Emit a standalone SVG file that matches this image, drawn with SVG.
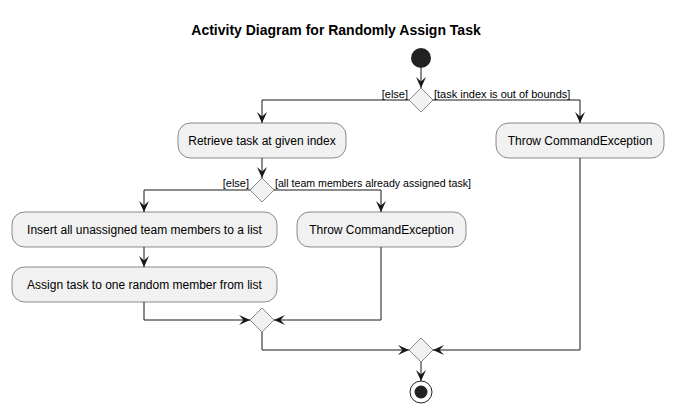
<svg xmlns="http://www.w3.org/2000/svg" width="675" height="413" viewBox="0 0 675 413">
<defs>
<style>
.box{fill:#F1F1F1;stroke:#181818;stroke-width:0.5}
.dia{fill:#F1F1F1;stroke:#181818;stroke-width:0.5}
.t{font-family:"Liberation Sans",Arial,sans-serif;font-size:12px;fill:#000;text-anchor:middle}
.lbl{font-family:"Liberation Sans",Arial,sans-serif;font-size:11px;fill:#000}
.ln{fill:none;stroke:#181818;stroke-width:1}
.title{font-family:"Liberation Sans",Arial,sans-serif;font-size:14px;font-weight:bold;fill:#000;text-anchor:middle}
</style>
<marker id="ah" viewBox="0 0 11 10" refX="11" refY="5" markerWidth="11" markerHeight="10" markerUnits="userSpaceOnUse" orient="auto">
<polygon points="0,0 11,5 0,10 4.5,5" fill="#181818"/>
</marker>
</defs>
<rect width="675" height="413" fill="#FFFFFF"/>
<text class="title" x="336" y="35">Activity Diagram for Randomly Assign Task</text>

<g id="start"><circle cx="421" cy="58" r="10" fill="#222222"/></g>
<g id="d1"><polygon class="dia" points="421,88 433,100 421,112 409,100"/></g>
<g id="retrieve"><rect class="box" x="178" y="123" width="168" height="35" rx="12.5"/><text class="t" x="262" y="145">Retrieve task at given index</text></g>
<g id="throw1"><rect class="box" x="496" y="123" width="168" height="35" rx="12.5"/><text class="t" x="580" y="145">Throw CommandException</text></g>
<g id="d2"><polygon class="dia" points="262,178 274,190 262,202 250,190"/></g>
<g id="insert"><rect class="box" x="12" y="212" width="265" height="35" rx="12.5"/><text class="t" x="144.5" y="234">Insert all unassigned team members to a list</text></g>
<g id="throw2"><rect class="box" x="297" y="212" width="169" height="35" rx="12.5"/><text class="t" x="381.5" y="234">Throw CommandException</text></g>
<g id="assign"><rect class="box" x="12" y="267" width="265" height="35" rx="12.5"/><text class="t" x="144.5" y="289">Assign task to one random member from list</text></g>
<g id="m2"><polygon class="dia" points="262,308 274,320 262,332 250,320"/></g>
<g id="m1"><polygon class="dia" points="421,338 433,350 421,362 409,350"/></g>
<g id="end"><circle cx="421" cy="392" r="11" fill="none" stroke="#222222" stroke-width="1"/><circle cx="421" cy="392" r="6.5" fill="#222222"/></g>

<g id="connectors">
<path class="ln" d="M421,68 V88" marker-end="url(#ah)"/>
<path class="ln" d="M409,100 H262 V123" marker-end="url(#ah)"/>
<path class="ln" d="M433,100 H580 V123" marker-end="url(#ah)"/>
<path class="ln" d="M262,158 V178" marker-end="url(#ah)"/>
<path class="ln" d="M250,190 H144 V212" marker-end="url(#ah)"/>
<path class="ln" d="M274,190 H381 V212" marker-end="url(#ah)"/>
<path class="ln" d="M144,247 V267" marker-end="url(#ah)"/>
<path class="ln" d="M144,302 V320 H250" marker-end="url(#ah)"/>
<path class="ln" d="M381,247 V320 H274" marker-end="url(#ah)"/>
<path class="ln" d="M262,332 V350 H409" marker-end="url(#ah)"/>
<path class="ln" d="M580,158 V350 H433" marker-end="url(#ah)"/>
<path class="ln" d="M421,362 V381" marker-end="url(#ah)"/>
<text class="lbl" x="408" y="98" text-anchor="end">[else]</text>
<text class="lbl" x="434" y="98">[task index is out of bounds]</text>
<text class="lbl" x="249" y="187" text-anchor="end">[else]</text>
<text class="lbl" x="275" y="187" textLength="196" lengthAdjust="spacingAndGlyphs">[all team members already assigned task]</text>
</g>
</svg>
